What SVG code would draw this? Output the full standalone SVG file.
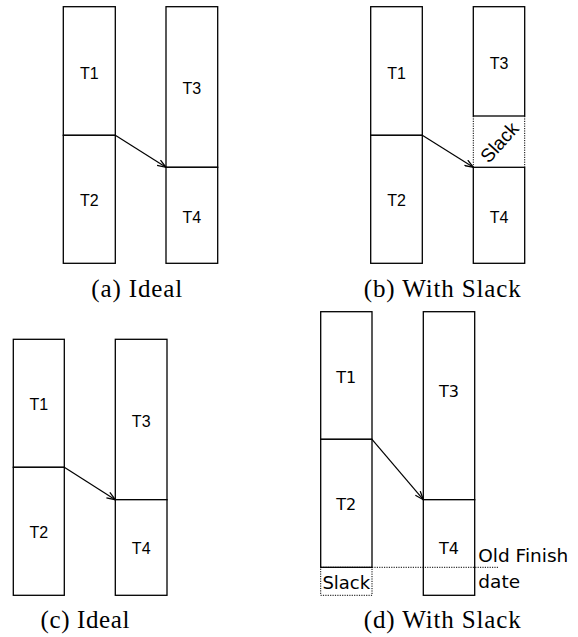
<svg xmlns="http://www.w3.org/2000/svg" width="578" height="637" viewBox="0 0 578 637">
<style>
.box{fill:#fff;stroke:#000;stroke-width:1.3}
.dot{stroke:#000;stroke-width:1;stroke-dasharray:1.2 1.2;fill:none}
.lbl{font-family:"Liberation Sans",Arial,sans-serif;font-size:16px;text-anchor:middle;fill:#000}
.lbld{font-family:"DejaVu Sans",sans-serif;font-size:16px;text-anchor:middle;fill:#000}
.cap{font-family:"Liberation Serif","Times New Roman",serif;font-size:25px;text-anchor:middle;fill:#000}
.conn{stroke:#000;stroke-width:1.2;fill:none;marker-end:url(#arr)}
</style>
<defs>
<marker id="arr" viewBox="0 0 10 8" refX="9.5" refY="4" markerWidth="10" markerHeight="8" markerUnits="userSpaceOnUse" orient="auto">
<path d="M1,0.8 L9.5,4 L1,7.2" fill="none" stroke="#000" stroke-width="1.3"/>
</marker>
</defs>

<!-- Panel (a) -->
<g id="a-T1"><rect class="box" x="63.3" y="6.7" width="52" height="128.6"/><text class="lbl" x="89.3" y="78.5">T1</text></g>
<g id="a-T2"><rect class="box" x="63.3" y="135.3" width="52" height="128"/><text class="lbl" x="89.3" y="206">T2</text></g>
<g id="a-T3"><rect class="box" x="166" y="6.7" width="51.7" height="160.6"/><text class="lbl" x="191.8" y="94">T3</text></g>
<g id="a-T4"><rect class="box" x="166" y="167.3" width="51.7" height="96"/><text class="lbl" x="191.8" y="222.5">T4</text></g>
<text id="cap-a" class="cap" x="136.7" y="297" textLength="91" lengthAdjust="spacing">(a) Ideal</text>

<!-- Panel (b) -->
<g id="b-T1"><rect class="box" x="370.7" y="6.7" width="51.6" height="128.6"/><text class="lbl" x="396.5" y="78.5">T1</text></g>
<g id="b-T2"><rect class="box" x="370.7" y="135.3" width="51.6" height="128"/><text class="lbl" x="396.5" y="206">T2</text></g>
<g id="b-T3"><rect class="box" x="473.3" y="6.7" width="51.4" height="109.3"/><text class="lbl" x="499" y="68.5">T3</text></g>
<g id="b-slack"><line class="dot" x1="473.3" y1="116" x2="473.3" y2="167.3"/><line class="dot" x1="524.7" y1="116" x2="524.7" y2="167.3"/><text class="lbl" style="font-size:19px" transform="translate(499,142) rotate(-48)" x="0" y="7">Slack</text></g>
<g id="b-T4"><rect class="box" x="473.3" y="167.3" width="51.4" height="96"/><text class="lbl" x="499" y="222.5">T4</text></g>
<text id="cap-b" class="cap" x="442.3" y="297" textLength="157" lengthAdjust="spacing">(b) With Slack</text>

<!-- Panel (c) -->
<g id="c-T1"><rect class="box" x="13.3" y="339.3" width="51" height="128"/><text class="lbl" x="38.8" y="410">T1</text></g>
<g id="c-T2"><rect class="box" x="13.3" y="467.3" width="51" height="128"/><text class="lbl" x="38.8" y="538">T2</text></g>
<g id="c-T3"><rect class="box" x="115.3" y="339.3" width="51.7" height="160.4"/><text class="lbl" x="141.2" y="426.5">T3</text></g>
<g id="c-T4"><rect class="box" x="115.3" y="499.7" width="51.7" height="95.6"/><text class="lbl" x="141.2" y="554">T4</text></g>
<text id="cap-c" class="cap" x="85" y="628" textLength="89" lengthAdjust="spacing">(c) Ideal</text>

<!-- Panel (d) -->
<g id="d-T1"><rect class="box" x="320.7" y="311.7" width="51.3" height="127.6"/><text class="lbld" x="346.3" y="382.5">T1</text></g>
<g id="d-T2"><rect class="box" x="320.7" y="439.3" width="51.3" height="128"/><text class="lbld" x="346.3" y="510">T2</text></g>
<g id="d-slack"><rect class="dot" x="320.7" y="567.3" width="51.3" height="28"/><text class="lbld" style="font-size:18px" x="346.3" y="588.5">Slack</text></g>
<g id="d-T3"><rect class="box" x="423.3" y="311.7" width="51.4" height="188"/><text class="lbld" x="449" y="397">T3</text></g>
<g id="d-T4"><rect class="box" x="423.3" y="499.7" width="51.4" height="95.6"/><text class="lbld" x="449" y="554">T4</text></g>
<g id="d-oldfinish"><line class="dot" x1="372" y1="567.3" x2="499" y2="567.3"/><text class="lbld" style="font-size:18.5px;text-anchor:start" x="478.3" y="561.5">Old Finish</text><text class="lbld" style="font-size:18.5px;text-anchor:start" x="478.3" y="587.5">date</text></g>
<text id="cap-d" class="cap" x="442.3" y="628" textLength="157" lengthAdjust="spacing">(d) With Slack</text>

<g id="connectors">
<line class="conn" x1="115.3" y1="135.3" x2="166" y2="167.3"/>
<line class="conn" x1="422.3" y1="135.3" x2="473.3" y2="167.3"/>
<line class="conn" x1="64.3" y1="467.3" x2="115.3" y2="499.7"/>
<line class="conn" x1="372" y1="439.3" x2="423.3" y2="499.7"/>
</g>
</svg>
